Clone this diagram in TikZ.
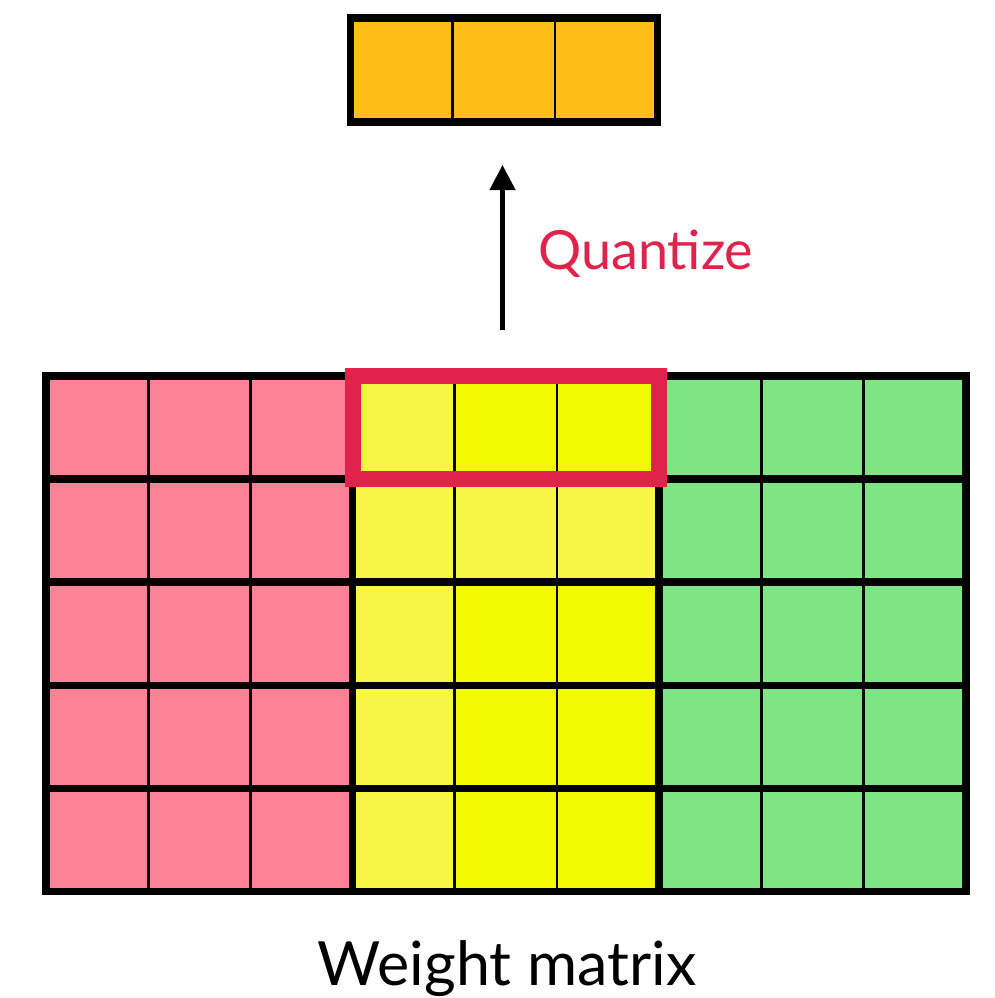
\documentclass[tikz,border=0pt]{standalone}
\usepackage{fontspec}
\setmainfont{Lato}
\usetikzlibrary{arrows.meta}
\definecolor{pinkc}{HTML}{FF8394}
\definecolor{ylight}{HTML}{F8F645}
\definecolor{ybright}{HTML}{F3F900}
\definecolor{greenc}{HTML}{7EE585}
\definecolor{orangec}{HTML}{FFBD17}
\definecolor{redc}{HTML}{E0234A}
\begin{document}
\begin{tikzpicture}[x=1pt,y=-1pt,
  cell/.style={draw=black,line width=2.7pt,minimum width=102.2pt,minimum height=103.1pt,inner sep=0pt,outer sep=0pt,anchor=north west},
  thickline/.style={line width=7.5pt},
  qlabel/.style={text=redc,font=\fontsize{54}{54}\selectfont,inner sep=0pt,anchor=base west},
  wlabel/.style={text=black,font=\fontsize{61}{61}\selectfont,inner sep=0pt,anchor=base}]
\useasboundingbox (0,0) rectangle (995,998);
% matrix cells
\foreach \r in {0,...,4}{
  \foreach \c in {0,1,2}{
    \node[cell,fill=pinkc] (m-\r-\c) at ({46+\c*102.2},{376+\r*103.1}) {};
  }
  \foreach \c in {6,7,8}{
    \node[cell,fill=greenc] (m-\r-\c) at ({46+\c*102.2},{376+\r*103.1}) {};
  }
}
% yellow block
\foreach \r/\a/\b/\cc in {0/ylight/ybright/ybright,1/ylight/ylight/ylight,2/ylight/ybright/ybright,3/ylight/ybright/ybright,4/ylight/ybright/ybright}{
  \node[cell,fill=\a] (m-\r-3) at ({46+3*102.2},{376+\r*103.1}) {};
  \node[cell,fill=\b] (m-\r-4) at ({46+4*102.2},{376+\r*103.1}) {};
  \node[cell,fill=\cc] (m-\r-5) at ({46+5*102.2},{376+\r*103.1}) {};
}
% thick row lines
\foreach \r in {1,...,4}{
  \draw[thickline] (m-\r-0.north west) -- (m-\r-8.north east);
}
% thick group boundaries
\draw[thickline] (m-0-3.north west) -- (m-4-3.south west);
\draw[thickline] (m-0-6.north west) -- (m-4-6.south west);
% outer frame
\draw[thickline] (m-0-0.north west) rectangle (m-4-8.south east);
% red selection box
\draw[redc,line width=16pt] (m-0-3.north west) rectangle (m-0-5.south east);
% top quantized vector
\foreach \c in {0,1,2}{
  \node[cell,fill=orangec,minimum width=102.3pt,minimum height=104pt] (q-\c) at ({350.5+\c*102.3},18) {};
}
\draw[thickline] (q-0.north west) rectangle (q-2.south east);
% arrow
\coordinate (arrS) at (502.5,330);
\coordinate (arrE) at (502.5,165);
\draw[line width=4.5pt,-{Triangle[length=25pt,width=25pt]}] (arrS) -- (arrE);
\node[qlabel] (quant) at (538,269) {Quantize};
\node[wlabel] (wm) at (507,985) {Weight matrix};
\end{tikzpicture}
\end{document}
